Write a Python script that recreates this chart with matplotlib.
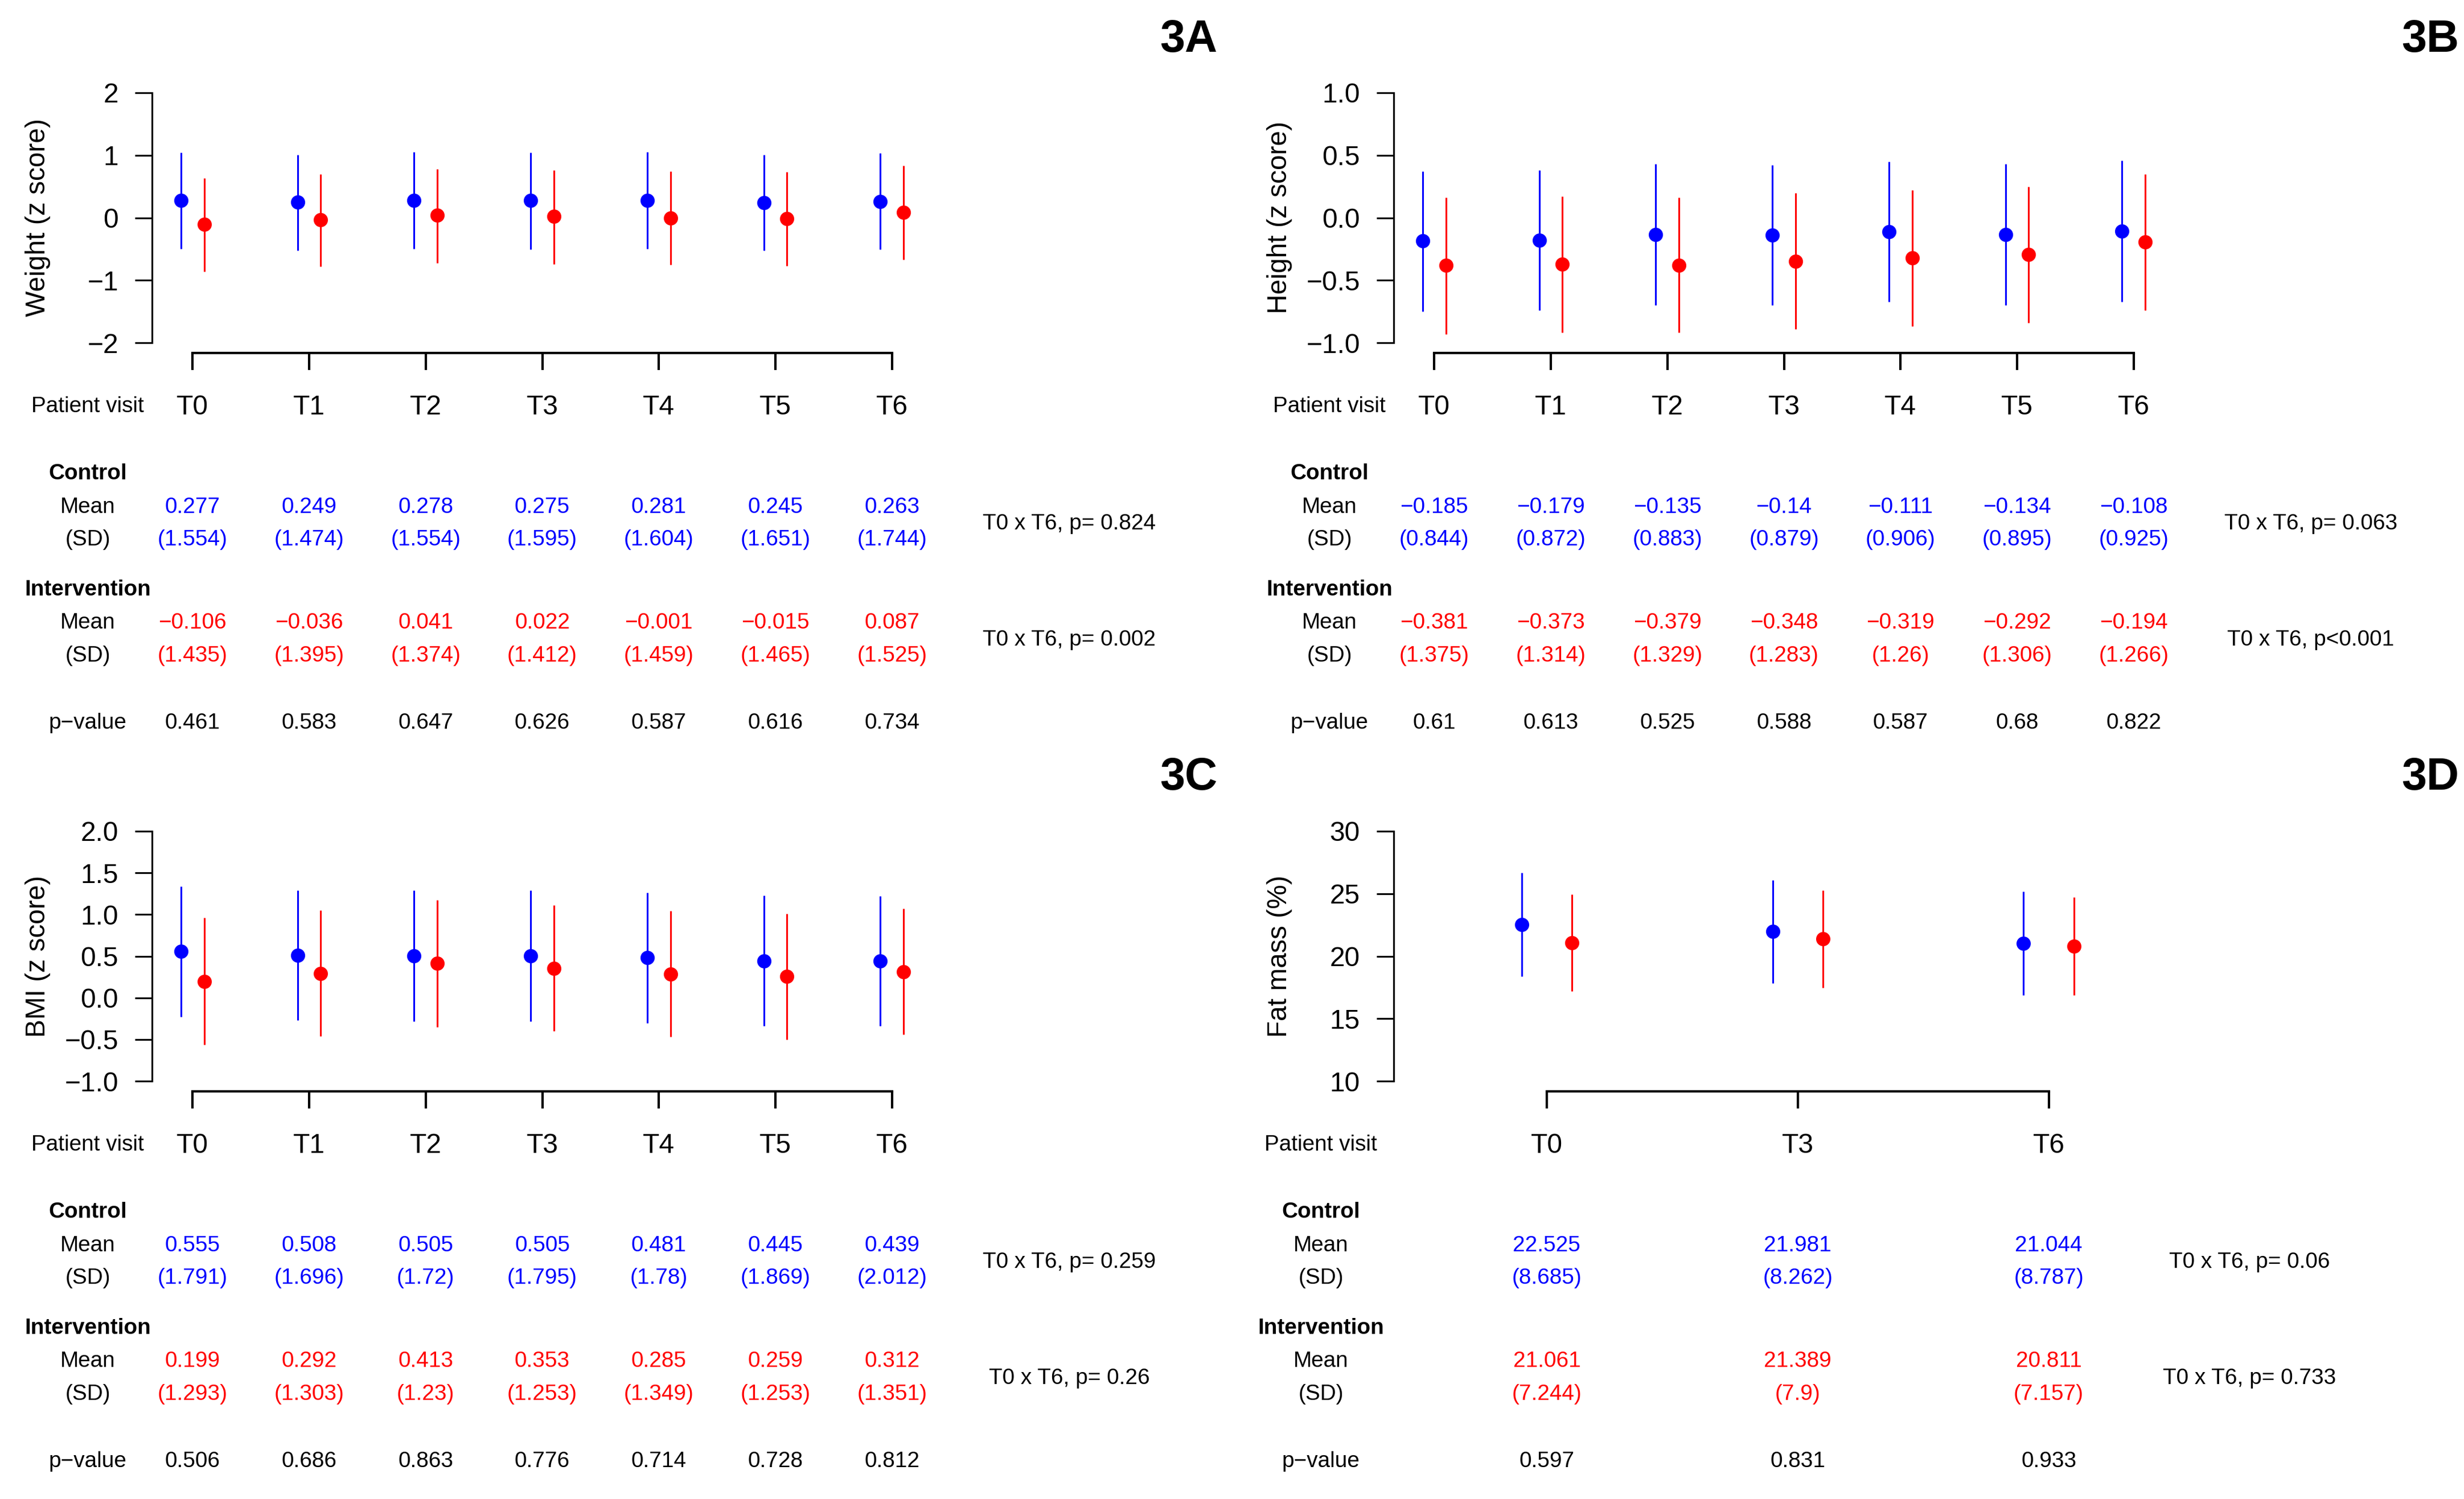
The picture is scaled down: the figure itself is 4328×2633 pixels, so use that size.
import numpy as np
import matplotlib
matplotlib.use('Agg')
import matplotlib.pyplot as plt
from matplotlib.transforms import blended_transform_factory

plt.rcParams['font.family'] = ['Liberation Sans', 'DejaVu Sans']

# ---- data ----
visits_7 = ['T0', 'T1', 'T2', 'T3', 'T4', 'T5', 'T6']
visits_3 = ['T0', 'T3', 'T6']

# 3A weight (z score)
weight_ctrl_mean = [0.277, 0.249, 0.278, 0.275, 0.281, 0.245, 0.263]
weight_ctrl_sd = [1.554, 1.474, 1.554, 1.595, 1.604, 1.651, 1.744]
weight_ctrl_lo = [-0.50, -0.52, -0.50, -0.51, -0.50, -0.52, -0.51]
weight_ctrl_hi = [1.04, 1.01, 1.05, 1.04, 1.05, 1.01, 1.03]
weight_int_mean = [-0.106, -0.036, 0.041, 0.022, -0.001, -0.015, 0.087]
weight_int_sd = [1.435, 1.395, 1.374, 1.412, 1.459, 1.465, 1.525]
weight_int_lo = [-0.86, -0.78, -0.72, -0.74, -0.75, -0.77, -0.67]
weight_int_hi = [0.63, 0.70, 0.78, 0.76, 0.74, 0.73, 0.83]
weight_p = [0.461, 0.583, 0.647, 0.626, 0.587, 0.616, 0.734]
weight_trend = ['p= 0.824', 'p= 0.002']

# 3B height (z score)
height_ctrl_mean = [-0.185, -0.179, -0.135, -0.14, -0.111, -0.134, -0.108]
height_ctrl_sd = [0.844, 0.872, 0.883, 0.879, 0.906, 0.895, 0.925]
height_ctrl_lo = [-0.75, -0.74, -0.70, -0.70, -0.67, -0.70, -0.67]
height_ctrl_hi = [0.37, 0.38, 0.43, 0.42, 0.45, 0.43, 0.46]
height_int_mean = [-0.381, -0.373, -0.379, -0.348, -0.319, -0.292, -0.194]
height_int_sd = [1.375, 1.314, 1.329, 1.283, 1.26, 1.306, 1.266]
height_int_lo = [-0.93, -0.92, -0.92, -0.89, -0.87, -0.84, -0.74]
height_int_hi = [0.16, 0.17, 0.16, 0.20, 0.22, 0.25, 0.35]
height_p = [0.61, 0.613, 0.525, 0.588, 0.587, 0.68, 0.822]
height_trend = ['p= 0.063', 'p<0.001']

# 3C BMI (z score)
bmi_ctrl_mean = [0.555, 0.508, 0.505, 0.505, 0.481, 0.445, 0.439]
bmi_ctrl_sd = [1.791, 1.696, 1.72, 1.795, 1.78, 1.869, 2.012]
bmi_ctrl_lo = [-0.23, -0.27, -0.28, -0.28, -0.30, -0.34, -0.34]
bmi_ctrl_hi = [1.34, 1.29, 1.29, 1.29, 1.26, 1.23, 1.22]
bmi_int_mean = [0.199, 0.292, 0.413, 0.353, 0.285, 0.259, 0.312]
bmi_int_sd = [1.293, 1.303, 1.23, 1.253, 1.349, 1.253, 1.351]
bmi_int_lo = [-0.56, -0.46, -0.35, -0.40, -0.47, -0.50, -0.44]
bmi_int_hi = [0.96, 1.05, 1.17, 1.11, 1.04, 1.01, 1.07]
bmi_p = [0.506, 0.686, 0.863, 0.776, 0.714, 0.728, 0.812]
bmi_trend = ['p= 0.259', 'p= 0.26']

# 3D fat mass (%)
fat_ctrl_mean = [22.525, 21.981, 21.044]
fat_ctrl_sd = [8.685, 8.262, 8.787]
fat_ctrl_lo = [18.40, 17.83, 16.88]
fat_ctrl_hi = [26.67, 26.10, 25.15]
fat_int_mean = [21.061, 21.389, 20.811]
fat_int_sd = [7.244, 7.9, 7.157]
fat_int_lo = [17.18, 17.48, 16.90]
fat_int_hi = [24.95, 25.27, 24.71]
fat_p = [0.597, 0.831, 0.933]
fat_trend = ['p= 0.06', 'p= 0.733']

yticks_a = [2, 1, 0, -1, -2]
yticks_b = [1.0, 0.5, 0.0, -0.5, -1.0]
yticks_c = [2.0, 1.5, 1.0, 0.5, 0.0, -0.5, -1.0]
yticks_d = [30, 25, 20, 15, 10]

# ---- figure ----
W, H = 4328, 2633
DPI = 300
MINUS = '\u2212'
BLUE = '#0000ff'
RED = '#ff0000'
FS = 9.3  # table text size

fig = plt.figure(figsize=(W / DPI, H / DPI), dpi=DPI)


def fmt(v, dec=None):
    s = str(v) if dec is None else '{:.{}f}'.format(v, dec)
    return s.replace('-', MINUS)


def draw_panel(left, shift, xlim, ylim, yticks, ydec, ylabel, visits,
               c_mean, c_sd, c_lo, c_hi, i_mean, i_sd, i_lo, i_hi,
               pvals, trend, trend_x, tag):
    top = 145.4 + shift
    ax = fig.add_axes([left / W, 1 - (top + 474.2) / H, 1371 / W, 474.2 / H])
    x = np.arange(1, len(visits) + 1)

    ax.vlines(x - 0.1, c_lo, c_hi, color=BLUE, lw=0.75)
    ax.plot(x - 0.1, c_mean, 'o', color=BLUE, ms=6, mec='none')
    ax.vlines(x + 0.1, i_lo, i_hi, color=RED, lw=0.75)
    ax.plot(x + 0.1, i_mean, 'o', color=RED, ms=6, mec='none')

    ax.set_xlim(xlim)
    ax.set_ylim(ylim)
    ax.spines['top'].set_visible(False)
    ax.spines['right'].set_visible(False)
    ax.spines['left'].set_bounds(yticks[-1], yticks[0])
    ax.spines['left'].set_linewidth(0.75)
    ax.spines['bottom'].set_bounds(1, len(visits))
    ax.spines['bottom'].set_linewidth(1.0)
    ax.set_yticks(yticks)
    ax.set_yticklabels([fmt(t, ydec) for t in yticks])
    ax.set_xticks(x)
    ax.set_xticklabels(visits)
    ax.tick_params(axis='y', length=7.2, width=0.75, pad=7, labelsize=11.5)
    ax.tick_params(axis='x', length=7.2, width=1.0, pad=10.3, labelsize=11.5)

    fig.text((left - 200.5) / W, 1 - (top + 237) / H, ylabel, rotation=90,
             ha='center', va='center', fontsize=11.5)
    fig.text((left + 1770) / W, 1 - (70 + shift) / H, tag, ha='left',
             va='center', fontsize=19, fontweight='bold')

    tr = blended_transform_factory(ax.transData, fig.transFigure)

    def yb(py):
        return 1 - (py + shift) / H

    lab_x = 0.1
    ax.text(lab_x, yb(724), 'Patient visit', transform=tr, ha='center',
            va='baseline', fontsize=FS)
    ax.text(lab_x, yb(842), 'Control', transform=tr, ha='center',
            va='baseline', fontsize=FS, fontweight='bold')
    ax.text(lab_x, yb(1046), 'Intervention', transform=tr, ha='center',
            va='baseline', fontsize=FS, fontweight='bold')
    for by in (901, 1104):
        ax.text(lab_x, yb(by), 'Mean', transform=tr, ha='center',
                va='baseline', fontsize=FS)
    for by in (958, 1162):
        ax.text(lab_x, yb(by), '(SD)', transform=tr, ha='center',
                va='baseline', fontsize=FS)
    ax.text(lab_x, yb(1280), 'p' + MINUS + 'value', transform=tr,
            ha='center', va='baseline', fontsize=FS)

    for k in range(len(visits)):
        xk = x[k]
        ax.text(xk, yb(901), fmt(c_mean[k]), transform=tr, ha='center',
                va='baseline', fontsize=FS, color=BLUE)
        ax.text(xk, yb(958), '(' + fmt(c_sd[k]) + ')', transform=tr,
                ha='center', va='baseline', fontsize=FS, color=BLUE)
        ax.text(xk, yb(1104), fmt(i_mean[k]), transform=tr, ha='center',
                va='baseline', fontsize=FS, color=RED)
        ax.text(xk, yb(1162), '(' + fmt(i_sd[k]) + ')', transform=tr,
                ha='center', va='baseline', fontsize=FS, color=RED)
        ax.text(xk, yb(1280), fmt(pvals[k]), transform=tr, ha='center',
                va='baseline', fontsize=FS)

    ax.text(trend_x, yb(930), 'T0 x T6, ' + trend[0], transform=tr,
            ha='center', va='baseline', fontsize=FS)
    ax.text(trend_x, yb(1134), 'T0 x T6, ' + trend[1], transform=tr,
            ha='center', va='baseline', fontsize=FS)
    return ax


SHIFT = 1297
draw_panel(267, 0, (0.652, 7.348), (-2.16, 2.16), yticks_a, None,
           'Weight (z score)', visits_7,
           weight_ctrl_mean, weight_ctrl_sd, weight_ctrl_lo, weight_ctrl_hi,
           weight_int_mean, weight_int_sd, weight_int_lo, weight_int_hi,
           weight_p, weight_trend, 8.52, '3A')
draw_panel(2448, 0, (0.652, 7.348), (-1.08, 1.08), yticks_b, 1,
           'Height (z score)', visits_7,
           height_ctrl_mean, height_ctrl_sd, height_ctrl_lo, height_ctrl_hi,
           height_int_mean, height_int_sd, height_int_lo, height_int_hi,
           height_p, height_trend, 8.52, '3B')
draw_panel(267, SHIFT, (0.652, 7.348), (-1.12, 2.12), yticks_c, 1,
           'BMI (z score)', visits_7,
           bmi_ctrl_mean, bmi_ctrl_sd, bmi_ctrl_lo, bmi_ctrl_hi,
           bmi_int_mean, bmi_int_sd, bmi_int_lo, bmi_int_hi,
           bmi_p, bmi_trend, 8.52, '3C')
draw_panel(2448, SHIFT, (0.39, 3.5), (9.2, 30.8), yticks_d, None,
           'Fat mass (%)', visits_3,
           fat_ctrl_mean, fat_ctrl_sd, fat_ctrl_lo, fat_ctrl_hi,
           fat_int_mean, fat_int_sd, fat_int_lo, fat_int_hi,
           fat_p, fat_trend, 3.8, '3D')

fig.savefig('out.png', dpi=DPI, facecolor='white')
